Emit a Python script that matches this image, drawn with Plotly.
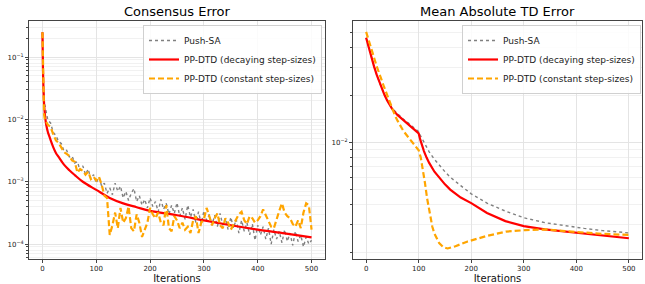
import plotly.graph_objects as go

# ---------------- data: Consensus Error ----------------
iters_cons = [0, 1, 2, 3, 4] + list(range(5, 501, 5))
push_cons = [0.25, 0.05, 0.028, 0.02, 0.016,
             0.016, 0.0098, 0.0088, 0.0062, 0.0055, 0.0044, 0.0041, 0.0031, 0.0032, 0.0025,
             0.0026, 0.0020, 0.0021, 0.0015, 0.0018, 0.0013, 0.0016, 0.0011, 0.0013, 0.00095,
             0.0012, 0.00085, 0.00095, 0.00065, 0.0008, 0.00062, 0.00095, 0.0007, 0.00085, 0.00055,
             0.0007, 0.0005, 0.00065, 0.00078, 0.00048, 0.0006, 0.00042, 0.00052, 0.00038, 0.00055,
             0.0004, 0.00048, 0.00033, 0.00052, 0.00036, 0.00045, 0.0003, 0.00042, 0.00031, 0.00046,
             0.00028, 0.00038, 0.00025, 0.00042, 0.00027, 0.00036, 0.00022, 0.00033, 0.00021, 0.00034,
             0.00024, 0.0003, 0.0002, 0.00029, 0.00019, 0.00031, 0.0002, 0.00026, 0.00017, 0.00027,
             0.00018, 0.00025, 0.00015, 0.00024, 0.00016, 0.00022, 0.00014, 0.00021, 0.000115, 0.0002,
             0.00014, 0.00019, 0.00012, 0.00018, 0.0001, 0.00017, 0.00012, 0.00016, 0.000105, 0.00017,
             0.00011, 0.00015, 0.000095, 0.00016, 0.00011, 0.00014, 0.00009, 0.00013, 0.0001, 0.000115]
const_cons = [0.25, 0.04, 0.018, 0.012, 0.0105,
              0.0098, 0.0082, 0.0076, 0.0058, 0.0046, 0.0042, 0.0036, 0.0030, 0.0028, 0.0026,
              0.0022, 0.0021, 0.0014, 0.0016, 0.0015, 0.0013, 0.00145, 0.0011, 0.0012, 0.00105,
              0.0012, 0.0009, 0.0006, 0.00055, 0.00014, 0.0002, 0.00032, 0.00018, 0.00038, 0.00022,
              0.00026, 0.0004, 0.00018, 0.00016, 0.0003, 0.00022, 0.00013, 0.00017, 0.00022, 0.00038,
              0.0003, 0.00026, 0.00032, 0.00022, 0.0002, 0.00042, 0.00018, 0.00016, 0.00028, 0.00024,
              0.00018, 0.00022, 0.00017, 0.00019, 0.00015, 0.00024, 0.00028, 0.00015, 0.00022, 0.00025,
              0.00038, 0.00028, 0.0002, 0.00026, 0.00031, 0.0002, 0.00018, 0.00026, 0.00022, 0.00017,
              0.00021, 0.00025, 0.0003, 0.00033, 0.00024, 0.00021, 0.00028, 0.00026, 0.00022, 0.00024,
              0.00028, 0.00036, 0.00029, 0.00024, 0.00019, 0.00018, 0.00026, 0.00034, 0.00045, 0.00032,
              0.00028, 0.00026, 0.00021, 0.00019, 0.00024, 0.00018, 0.00032, 0.00045, 0.00042, 0.00017]
iters_cons_red = [0, 1, 2, 3, 4, 5, 7, 10, 13, 15, 20, 25, 30, 40, 50, 60, 75, 100,
                  125, 150, 175, 200, 250, 300, 350, 400, 450, 500]
decay_cons = [0.25, 0.06, 0.03, 0.018, 0.0135, 0.011, 0.0082, 0.0063, 0.0053, 0.0047, 0.0036,
              0.0029, 0.0025, 0.00188, 0.00153, 0.00128, 0.001, 0.00074, 0.00055, 0.00045,
              0.00039, 0.00034, 0.00029, 0.00024, 0.0002, 0.00017, 0.000148, 0.000128]

# ---------------- data: Mean Absolute TD Error ----------------
iters_td = [0, 5, 10, 15, 20, 25, 30, 35, 40, 45, 50, 60, 70, 80, 90, 100, 103, 106, 110,
            115, 120, 130, 140, 150, 160, 170, 180, 200, 230, 265, 300, 340, 380, 415, 450, 500]
decay_td = [0.0464, 0.040, 0.0348, 0.0305, 0.0270, 0.0242, 0.0220, 0.0200, 0.0185, 0.0172,
            0.0162, 0.0149, 0.0139, 0.0130, 0.0122, 0.0114, 0.0104, 0.0096, 0.0088,
            0.0080, 0.0074, 0.0065, 0.0059, 0.0054, 0.0050, 0.0047, 0.00445, 0.0041, 0.00355,
            0.00315, 0.00293, 0.00279, 0.0027, 0.00261, 0.00253, 0.00245]
push_td = [0.0464, 0.040, 0.0348, 0.0305, 0.0270, 0.0242, 0.0220, 0.0201, 0.0186, 0.0174,
           0.0164, 0.0151, 0.0141, 0.0133, 0.0125, 0.0117, 0.0111, 0.0106, 0.0100,
           0.0093, 0.0087, 0.0078, 0.0071, 0.0065, 0.0060, 0.0056, 0.0053, 0.0047, 0.0041,
           0.00365, 0.00331, 0.00308, 0.00293, 0.00283, 0.00274, 0.00265]
iters_td_const = [0, 10, 20, 34, 45, 50, 55, 60, 71, 85, 96, 100, 104, 108, 112, 116, 121,
                  126, 130, 135, 139, 147, 155, 170, 192, 229, 266, 303, 341, 378, 415, 452, 500]
const_td = [0.0505, 0.0393, 0.0306, 0.0226, 0.0180, 0.0162, 0.0148, 0.0137, 0.0118, 0.0103,
            0.0093, 0.0089, 0.0080, 0.0068, 0.0055, 0.0044, 0.0035, 0.0029, 0.00262, 0.0024,
            0.00228, 0.00215, 0.00211, 0.00218, 0.00233, 0.00253, 0.0027, 0.00276, 0.00279,
            0.00272, 0.00265, 0.00261, 0.00257]

xticks = [0, 100, 200, 300, 400, 500]
minor_left = [m * 10 ** e for e in (-5, -4, -3, -2, -1) for m in range(2, 10)]
minor_right = [m * 10 ** e for e in (-3, -2) for m in range(2, 10)]

GRAY = "#808080"
RED = "#ff0000"
ORANGE = "#ffa500"
FONT = "DejaVu Sans"

fig = go.Figure()

# left
fig.add_trace(go.Scatter(x=iters_cons, y=push_cons, mode="lines", name="Push-SA",
                         line=dict(color=GRAY, width=1.4, dash="dot"),
                         xaxis="x", yaxis="y", legend="legend"))
fig.add_trace(go.Scatter(x=iters_cons_red, y=decay_cons, mode="lines",
                         name="PP-DTD (decaying step-sizes)",
                         line=dict(color=RED, width=2.2, shape="spline"),
                         xaxis="x", yaxis="y", legend="legend"))
fig.add_trace(go.Scatter(x=iters_cons, y=const_cons, mode="lines",
                         name="PP-DTD (constant step-sizes)",
                         line=dict(color=ORANGE, width=2.2, dash="6px,3px"),
                         xaxis="x", yaxis="y", legend="legend"))
# right
fig.add_trace(go.Scatter(x=iters_td, y=push_td, mode="lines", name="Push-SA",
                         line=dict(color=GRAY, width=1.4, dash="dot"),
                         xaxis="x2", yaxis="y2", legend="legend2"))
fig.add_trace(go.Scatter(x=iters_td, y=decay_td, mode="lines",
                         name="PP-DTD (decaying step-sizes)",
                         line=dict(color=RED, width=2.2),
                         xaxis="x2", yaxis="y2", legend="legend2"))
fig.add_trace(go.Scatter(x=iters_td_const, y=const_td, mode="lines",
                         name="PP-DTD (constant step-sizes)",
                         line=dict(color=ORANGE, width=2.2, dash="6px,3px"),
                         xaxis="x2", yaxis="y2", legend="legend2"))

axis_common = dict(showline=True, linecolor="#444", linewidth=1, mirror=True,
                   gridcolor="#e4e4e4", gridwidth=1, zeroline=False,
                   ticks="outside", ticklen=3, tickcolor="#444",
                   tickfont=dict(family=FONT, size=7, color="#222"))

legend_common = dict(xref="paper", yref="paper", yanchor="top", xanchor="right",
                     bgcolor="rgba(255,255,255,0.85)", bordercolor="#d0d0d0", borderwidth=1,
                     font=dict(family=FONT, size=9, color="#222"), tracegroupgap=0,
                     itemwidth=30)

fig.update_layout(
    width=645, height=284,
    margin=dict(l=0, r=0, t=21, b=25),
    plot_bgcolor="white", paper_bgcolor="white",
    font=dict(family=FONT, color="#111"),
    xaxis=dict(domain=[29 / 645, 325 / 645], range=[-25, 525], tickvals=xticks,
               title=dict(text="Iterations", font=dict(size=10), standoff=3),
               anchor="y", **axis_common),
    yaxis=dict(type="log", range=[-4.24, -0.42], anchor="x",
               tickvals=[1e-4, 1e-3, 1e-2, 1e-1],
               ticktext=["10<sup>−4</sup>", "10<sup>−3</sup>", "10<sup>−2</sup>", "10<sup>−1</sup>"],
               minor=dict(tickmode="array", tickvals=minor_left, showgrid=True,
                          gridcolor="#f1f1f1", ticks="outside", ticklen=2, tickcolor="#444"),
               **axis_common),
    xaxis2=dict(domain=[353 / 645, 642 / 645], range=[-25, 525], tickvals=xticks,
                title=dict(text="Iterations", font=dict(size=10), standoff=3),
                anchor="y2", **axis_common),
    yaxis2=dict(type="log", range=[-2.743, -1.227], anchor="x2",
                tickvals=[1e-2], ticktext=["10<sup>−2</sup>"],
                minor=dict(tickmode="array", tickvals=minor_right, showgrid=True,
                           gridcolor="#f1f1f1", ticks="outside", ticklen=2, tickcolor="#444"),
                **axis_common),
    legend=dict(x=322 / 645, y=1 - 4 / 238, **legend_common),
    legend2=dict(x=641 / 645, y=1 - 4 / 238, **legend_common),
    annotations=[
        dict(text="Consensus Error", x=(29 + 325) / 2 / 645, y=1, xref="paper", yref="paper",
             xanchor="center", yanchor="bottom", yshift=0, showarrow=False,
             font=dict(family=FONT, size=13, color="#000")),
        dict(text="Mean Absolute TD Error", x=(353 + 642) / 2 / 645, y=1, xref="paper",
             yref="paper", xanchor="center", yanchor="bottom", yshift=0, showarrow=False,
             font=dict(family=FONT, size=13, color="#000")),
    ],
)

fig.write_html("out.html", config={"displayModeBar": False},
               post_script="document.body.style.margin='0';")
